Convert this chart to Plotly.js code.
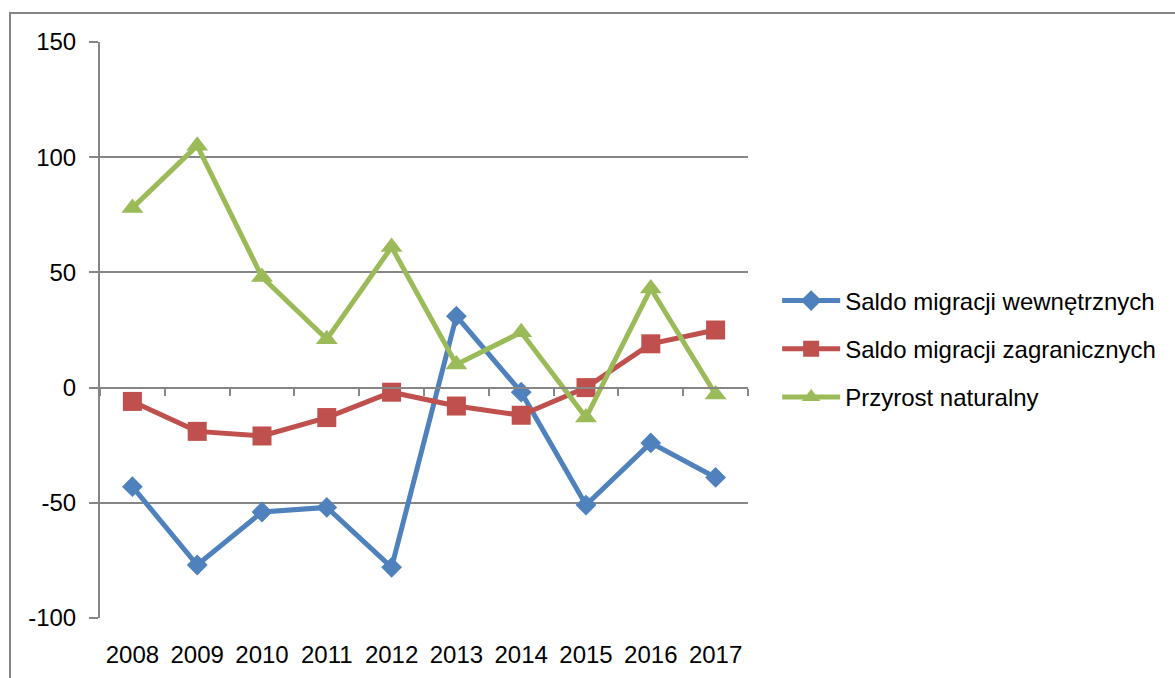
<!DOCTYPE html>
<html>
<head>
<meta charset="utf-8">
<script src="https://cdn.plot.ly/plotly-3.0.1.min.js"></script>
<style>
html,body{margin:0;padding:0;background:#fff;overflow:hidden;}
#frame{position:absolute;left:9px;top:12px;width:1300px;height:800px;border:2px solid #868686;box-sizing:border-box;}
#chart{position:absolute;left:0;top:0;width:1175px;height:678px;}
</style>
</head>
<body>
<div id="frame"></div>
<div id="chart"></div>
<script>
const years = ['2008','2009','2010','2011','2012','2013','2014','2015','2016','2017'];
const seriesNames = ['Saldo migracji wewnętrznych','Saldo migracji zagranicznych','Przyrost naturalny'];
const internalMigration = [-43, -77, -54, -52, -78, 31, -2, -51, -24, -39];
const foreignMigration = [-6, -19, -21, -13, -2, -8, -12, 0, 19, 25];
const naturalIncrease = [78, 105, 48, 21, 61, 10, 24, -13, 43, -3];
const yTicks = [-100, -50, 0, 50, 100, 150];
const yTickText = ['-100', '-50', '0', '50', '100', '150'];

const fontFam = 'Liberation Sans, Arial, sans-serif';
const traces = [
  {x: years, y: internalMigration, name: seriesNames[0], type: 'scatter', mode: 'lines+markers',
   line: {color: '#4F81BD', width: 5}, marker: {symbol: 'diamond', size: 16, color: '#4F81BD'}, legendgroup: 'a'},
  {x: years, y: foreignMigration, name: seriesNames[1], type: 'scatter', mode: 'lines+markers',
   line: {color: '#C0504D', width: 5}, marker: {symbol: 'square', size: 19, color: '#C0504D'}, legendgroup: 'b'},
  {x: years, y: naturalIncrease, name: seriesNames[2], type: 'scatter', mode: 'lines+markers',
   line: {color: '#9BBB59', width: 5}, marker: {symbol: 'triangle-up', size: 19, color: '#9BBB59'}, legendgroup: 'c'},
  {x: years, y: years.map(() => null), xaxis: 'x2', yaxis: 'y', type: 'scatter', mode: 'markers',
   showlegend: false, hoverinfo: 'skip'}
];

const layout = {
  width: 1175, height: 678,
  margin: {l: 100, r: 427, t: 42, b: 60},
  paper_bgcolor: 'rgba(0,0,0,0)', plot_bgcolor: 'rgba(0,0,0,0)',
  font: {family: fontFam, size: 24, color: '#000'},
  showlegend: true,
  xaxis: {type: 'category', categoryarray: years, range: [-0.5, 9.5], showgrid: false, zeroline: false,
          showline: false, ticks: '', ticklabelstandoff: 20, tickfont: {size: 24}},
  xaxis2: {type: 'category', categoryarray: years, range: [-0.5, 9.5], overlaying: 'x', anchor: 'free', position: 0.4,
           showline: true, linecolor: '#868686', linewidth: 2, ticks: 'outside', tickson: 'boundaries', ticklen: 7,
           tickwidth: 2, tickcolor: '#868686', showticklabels: false, showgrid: false, zeroline: false},
  yaxis: {range: [-100, 150], tickvals: yTicks, ticktext: yTickText, showgrid: true, gridcolor: '#868686', gridwidth: 2,
          zeroline: false, showline: true, linecolor: '#868686', linewidth: 2, ticks: 'outside', ticklen: 9,
          tickwidth: 2, tickcolor: '#868686', ticklabelstandoff: 8, tickfont: {size: 24}},
  legend: {x: 1.045, y: 0.467, xanchor: 'left', yanchor: 'middle', traceorder: 'grouped', tracegroupgap: 14,
           itemwidth: 58, font: {size: 24}, bgcolor: 'rgba(0,0,0,0)'}
};

Plotly.newPlot('chart', traces, layout, {displayModeBar: false, staticPlot: true});
</script>
</body>
</html>
